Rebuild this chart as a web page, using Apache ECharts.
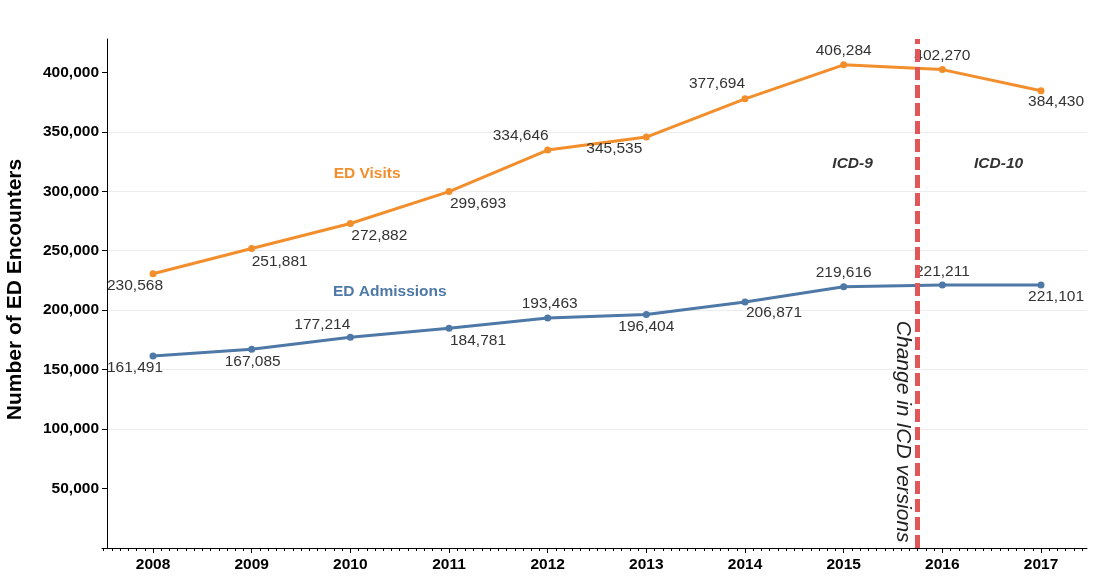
<!DOCTYPE html>
<html>
<head>
<meta charset="utf-8">
<script src="https://cdn.jsdelivr.net/npm/echarts@6/dist/echarts.min.js"></script>
<style>
  html, body { margin: 0; padding: 0; background: #fff; }
  #main { width: 1096px; height: 586px; }
</style>
</head>
<body>
<div id="main"></div>
<script>
// data
var years = [2008, 2009, 2010, 2011, 2012, 2013, 2014, 2015, 2016, 2017];
var edVisits = [230568, 251881, 272882, 299693, 334646, 345535, 377694, 406284, 402270, 384430];
var edAdmissions = [161491, 167085, 177214, 184781, 193463, 196404, 206871, 219616, 221211, 221101];
var icdChange = 2015.75; // Oct 2015
var yTicks = [50000, 100000, 150000, 200000, 250000, 300000, 350000, 400000];

// label nudges (pixels from the point), kept apart from the data
var visitLabelOffsets = [[-18, 12], [28, 13], [29, 12], [29, 12], [-27, -14], [-32, 12], [-28, -15], [0, -14], [0, -14], [15, 11]];
var admLabelOffsets = [[-18, 12], [1, 12], [-28, -13], [29, 12], [2, -14], [0, 12], [29, 11], [0, -14], [0, -13], [15, 12]];

// text annotations in data coords
var notes = [
  { text: 'ED Visits', coord: [2010.17, 314500], style: 'visits' },
  { text: 'ED Admissions', coord: [2010.40, 215300], style: 'adm' },
  { text: 'ICD-9', coord: [2015.09, 322800], style: 'icd' },
  { text: 'ICD-10', coord: [2016.57, 322800], style: 'icd' },
  { text: 'Change in ICD versions', coord: [2015.60, 97800], style: 'change' }
];

var ORANGE = '#F28E2B', BLUE = '#4E79A7', RED = '#E15759';
var FONT = 'Liberation Sans, Arial, sans-serif';

var xMin = 2007.483, xMax = 2017.466;
var monthTicks = [];
for (var m = Math.ceil(xMin * 12); m / 12 <= xMax; m++) monthTicks.push(m / 12);

function fmt(v) { return echarts.format.addCommas(v); }

function buildPoints(vals, offsets) {
  return vals.map(function (v, i) {
    return { value: [years[i], v], label: { offset: offsets[i] } };
  });
}

var noteStyles = {
  visits: { color: ORANGE, fontWeight: 'bold', fontSize: 15.5 },
  adm: { color: BLUE, fontWeight: 'bold', fontSize: 15.5 },
  icd: { color: '#333', fontWeight: 'bold', fontStyle: 'italic', fontSize: 15.5 },
  change: { color: '#222', fontStyle: 'italic', fontSize: 21, rotate: -90 }
};

var chart = echarts.init(document.getElementById('main'));
chart.setOption({
  animation: false,
  backgroundColor: '#fff',
  grid: { left: 102, right: 9, top: 39, bottom: 38, outerBoundsMode: 'none', containLabel: false },
  xAxis: [{
    type: 'value',
    min: xMin,
    max: xMax,
    position: 'bottom',
    axisLine: { show: true, lineStyle: { color: '#000', width: 1 } },
    axisTick: { show: true, customValues: years, length: 5, lineStyle: { color: '#000' } },
    axisLabel: {
      customValues: years, margin: 9, color: '#000', fontWeight: 'bold',
      fontSize: 15.5, fontFamily: FONT,
      formatter: function (v) { return String(Math.round(v)); }
    },
    splitLine: { show: false }
  }, {
    type: 'value',
    min: xMin,
    max: xMax,
    position: 'bottom',
    offset: 0,
    axisLine: { show: false },
    axisTick: { show: true, customValues: monthTicks, length: 3, lineStyle: { color: '#000' } },
    axisLabel: { show: false },
    splitLine: { show: false }
  }],
  yAxis: {
    type: 'value',
    min: 0,
    max: 428000,
    interval: 50000,
    offset: -5,
    name: 'Number of ED Encounters',
    nameLocation: 'middle',
    nameRotate: 90,
    nameGap: 81,
    nameTextStyle: { color: '#000', fontWeight: 'bold', fontSize: 21, fontFamily: FONT, padding: [0, 0, 0, 8] },
    axisLine: { show: true, lineStyle: { color: '#000', width: 1 } },
    axisTick: { show: true, customValues: yTicks, length: 5, lineStyle: { color: '#000' } },
    axisLabel: {
      customValues: yTicks, margin: 8, color: '#000', fontWeight: 'bold',
      fontSize: 15.5, fontFamily: FONT, formatter: fmt
    },
    splitLine: {
      show: true, showMinLine: false, showMaxLine: false,
      lineStyle: { color: '#ececec', width: 1 }
    }
  },
  series: [{
    name: 'ED Visits',
    type: 'line',
    data: buildPoints(edVisits, visitLabelOffsets),
    symbol: 'circle',
    symbolSize: 7,
    color: ORANGE,
    lineStyle: { color: ORANGE, width: 3 },
    itemStyle: { color: ORANGE },
    label: {
      show: true, position: 'inside', color: '#333', fontSize: 15.5, fontFamily: FONT,
      formatter: function (p) { return fmt(p.value[1]); }
    },
    emphasis: { disabled: true },
    z: 3
  }, {
    name: 'ED Admissions',
    type: 'line',
    data: buildPoints(edAdmissions, admLabelOffsets),
    symbol: 'circle',
    symbolSize: 7,
    color: BLUE,
    lineStyle: { color: BLUE, width: 3 },
    itemStyle: { color: BLUE },
    label: {
      show: true, position: 'inside', color: '#333', fontSize: 15.5, fontFamily: FONT,
      formatter: function (p) { return fmt(p.value[1]); }
    },
    emphasis: { disabled: true },
    z: 3
  }, {
    name: 'notes',
    type: 'scatter',
    data: notes.map(function (n) {
      var s = noteStyles[n.style];
      return {
        value: n.coord,
        name: n.text,
        label: Object.assign({
          show: true, position: 'inside', formatter: n.text, fontFamily: FONT,
          textBorderWidth: 0, opacity: 1
        }, s)
      };
    }),
    symbolSize: 0,
    itemStyle: { color: '#fff', opacity: 1 },
    emphasis: { disabled: true },
    silent: true,
    z: 4,
    markLine: {
      silent: true,
      symbol: ['none', 'none'],
      label: { show: false },
      lineStyle: { color: RED, width: 5, type: [13, 5], opacity: 1 },
      data: [{ xAxis: icdChange }],
      z: 5
    }
  }]
});
</script>
</body>
</html>
